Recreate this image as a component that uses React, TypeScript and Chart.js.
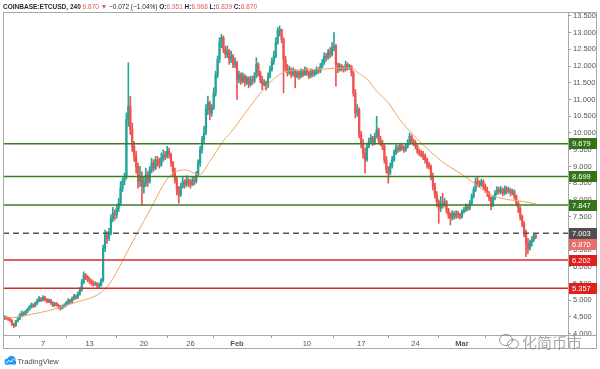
import React, { useEffect, useRef } from "react";
import { Chart, registerables } from "chart.js";

Chart.register(...registerables);

// ---- data (day 0 = 2 Jan 2020, 4 candles per day) ----
const symbol = "COINBASE:ETCUSD";
const interval = "240";
const changeText = "−0.072 (−1.04%)";
const candlesPerDay = 4;
const firstOpen = 4.46;

const closes = [
  4.50, 4.46, 4.44, 4.40, 4.28, 4.24, 4.38, 4.45, 4.55, 4.62, 4.58, 4.66, 4.72, 4.80, 4.86, 4.82,
  4.90, 4.98, 5.05, 5.00, 5.08, 5.02, 4.96, 5.00, 4.92, 4.85, 4.90, 4.86, 4.80, 4.76, 4.82, 4.85,
  4.92, 5.00, 4.95, 5.05, 5.12, 5.08, 5.20, 5.30, 5.55, 5.75, 5.70, 5.62, 5.58, 5.52, 5.48, 5.50,
  5.42, 5.45, 5.60, 6.55, 6.95, 6.85, 7.00, 7.45, 7.60, 7.55, 7.75, 7.90, 8.35, 8.55, 8.70, 10.40,
  10.80, 10.10, 9.60, 9.30, 9.00, 8.55, 8.70, 8.40, 8.50, 8.75, 8.55, 8.90, 9.10, 8.95, 9.20, 9.15,
  9.05, 9.25, 9.35, 9.30, 9.45, 9.35, 9.10, 8.85, 8.60, 8.30, 8.15, 8.40, 8.55, 8.45, 8.60, 8.50,
  8.45, 8.60, 8.55, 8.75, 9.10, 9.50, 9.80, 10.00, 10.70, 10.90, 10.60, 10.75, 11.20, 11.75, 12.20, 12.70,
  12.85, 12.50, 12.35, 12.45, 12.20, 12.30, 12.05, 12.10, 11.60, 11.75, 11.55, 11.70, 11.50, 11.65, 11.45, 11.60,
  11.55, 11.70, 12.05, 11.80, 11.60, 11.45, 11.50, 11.40, 11.70, 11.90, 12.15, 12.30, 12.70, 13.05, 13.10, 12.80,
  12.20, 11.95, 11.80, 11.90, 11.75, 11.85, 11.70, 11.80, 11.70, 11.85, 11.75, 11.90, 11.80, 11.70, 11.85, 11.75,
  11.80, 11.90, 11.85, 12.00, 12.10, 12.30, 12.25, 12.40, 12.35, 12.55, 12.60, 12.05, 11.90, 12.00, 11.95, 11.90,
  12.05, 11.95, 12.00, 11.80, 11.20, 10.60, 10.70, 9.95, 9.70, 9.40, 9.20, 9.60, 9.75, 9.85, 9.70, 9.90,
  10.10, 9.80, 9.70, 9.60, 9.20, 8.90, 8.80, 9.00, 9.20, 9.40, 9.55, 9.50, 9.60, 9.55, 9.50, 9.60,
  9.70, 9.90, 9.75, 9.70, 9.60, 9.45, 9.40, 9.35, 9.30, 9.20, 9.05, 9.00, 8.70, 8.40, 8.15, 7.95,
  7.75, 7.90, 7.85, 7.95, 7.70, 7.55, 7.45, 7.60, 7.50, 7.60, 7.55, 7.50, 7.65, 7.70, 7.80, 7.75,
  7.90, 8.10, 8.30, 8.55, 8.50, 8.45, 8.55, 8.40, 8.30, 8.20, 8.05, 7.85, 8.05, 8.20, 8.30, 8.25,
  8.30, 8.20, 8.35, 8.25, 8.30, 8.20, 8.25, 8.10, 7.90, 7.75, 7.50, 7.30, 7.05, 6.70, 6.55, 6.75,
  6.80, 6.951, 6.870,
];

const highs = [
  4.55, 4.53, 4.50, 4.47, 4.42, 4.32, 4.40, 4.50, 4.60, 4.68, 4.66, 4.70, 4.76, 4.84, 4.92, 4.90,
  4.95, 5.04, 5.12, 5.08, 5.14, 5.12, 5.05, 5.04, 5.03, 4.96, 4.94, 4.93, 4.89, 4.84, 4.86, 4.90,
  4.96, 5.05, 5.03, 5.10, 5.18, 5.16, 5.25, 5.38, 5.62, 5.85, 5.80, 5.74, 5.68, 5.62, 5.58, 5.55,
  5.53, 5.52, 5.65, 6.65, 7.10, 7.05, 7.15, 7.55, 7.78, 7.70, 7.85, 8.05, 8.55, 8.65, 8.80, 10.60,
  12.10, 11.10, 10.30, 9.75, 9.45, 9.10, 9.00, 8.85, 8.70, 8.95, 8.85, 9.00, 9.25, 9.20, 9.30, 9.30,
  9.25, 9.40, 9.50, 9.45, 9.60, 9.55, 9.40, 9.15, 8.95, 8.70, 8.40, 8.50, 8.70, 8.60, 8.72, 8.65,
  8.60, 8.68, 8.70, 8.85, 9.20, 9.60, 9.90, 10.20, 10.85, 11.10, 10.95, 10.85, 11.35, 11.85, 12.30, 12.85,
  12.95, 12.90, 12.60, 12.60, 12.50, 12.45, 12.35, 12.25, 12.15, 11.85, 11.80, 11.80, 11.75, 11.70, 11.68, 11.70,
  11.70, 11.80, 12.25, 12.10, 11.85, 11.70, 11.60, 11.55, 11.80, 12.00, 12.25, 12.45, 12.85, 13.15, 13.20, 13.10,
  12.85, 12.30, 12.05, 12.00, 11.95, 11.95, 11.90, 11.88, 11.85, 11.92, 11.90, 11.98, 11.95, 11.85, 11.92, 11.90,
  11.88, 11.98, 11.95, 12.08, 12.20, 12.40, 12.38, 12.50, 12.55, 12.70, 13.00, 12.65, 12.10, 12.08, 12.05, 12.00,
  12.15, 12.10, 12.05, 12.02, 11.85, 11.30, 10.85, 10.75, 10.05, 9.80, 9.55, 9.70, 9.85, 9.95, 9.90, 10.00,
  10.50, 10.15, 9.90, 9.78, 9.65, 9.30, 9.00, 9.10, 9.30, 9.50, 9.65, 9.62, 9.70, 9.68, 9.62, 9.68,
  9.80, 10.00, 9.95, 9.82, 9.78, 9.65, 9.52, 9.48, 9.45, 9.38, 9.25, 9.12, 9.05, 8.80, 8.50, 8.25,
  8.00, 8.10, 8.20, 8.05, 7.98, 7.75, 7.62, 7.68, 7.65, 7.68, 7.66, 7.60, 7.70, 7.78, 7.88, 7.85,
  7.98, 8.18, 8.38, 8.65, 8.70, 8.58, 8.62, 8.60, 8.48, 8.38, 8.25, 8.10, 8.12, 8.28, 8.40, 8.38,
  8.40, 8.35, 8.42, 8.40, 8.38, 8.34, 8.32, 8.30, 8.15, 7.95, 7.80, 7.55, 7.35, 7.10, 6.85, 6.80,
  6.90, 7.00, 6.968,
];

const lows = [
  4.42, 4.43, 4.40, 4.36, 4.24, 4.18, 4.22, 4.35, 4.42, 4.50, 4.54, 4.55, 4.62, 4.70, 4.77, 4.78,
  4.80, 4.87, 4.95, 4.96, 4.98, 4.98, 4.92, 4.93, 4.88, 4.80, 4.82, 4.82, 4.74, 4.70, 4.74, 4.79,
  4.82, 4.88, 4.90, 4.93, 5.00, 5.03, 5.05, 5.15, 5.27, 5.50, 5.62, 5.55, 5.50, 5.45, 5.42, 5.44,
  5.36, 5.38, 5.42, 5.55, 6.45, 6.70, 6.78, 6.95, 7.35, 7.40, 7.45, 7.65, 7.85, 8.25, 8.45, 8.62,
  10.20, 9.95, 9.45, 9.15, 8.80, 8.35, 8.40, 7.85, 8.20, 8.40, 8.40, 8.50, 8.80, 8.85, 8.90, 9.00,
  8.95, 9.00, 9.15, 9.20, 9.25, 9.25, 9.00, 8.70, 8.50, 8.15, 7.90, 8.10, 8.35, 8.35, 8.40, 8.40,
  8.35, 8.42, 8.45, 8.50, 8.70, 9.00, 9.40, 9.70, 9.95, 10.55, 10.40, 10.50, 10.70, 11.10, 11.65, 12.10,
  12.55, 12.40, 12.25, 12.25, 12.05, 12.10, 11.95, 11.95, 11.00, 11.50, 11.45, 11.50, 11.40, 11.45, 11.35, 11.40,
  11.45, 11.50, 11.65, 11.70, 11.50, 11.30, 11.40, 11.28, 11.35, 11.65, 11.85, 12.05, 12.25, 12.65, 12.90, 12.70,
  11.20, 11.85, 11.70, 11.75, 11.65, 11.70, 11.35, 11.65, 11.60, 11.65, 11.68, 11.72, 11.72, 11.62, 11.65, 11.68,
  11.70, 11.75, 11.78, 11.80, 11.95, 12.05, 12.15, 12.20, 12.25, 12.30, 12.45, 11.40, 11.80, 11.85, 11.85, 11.82,
  11.85, 11.88, 11.90, 11.70, 11.10, 10.45, 10.50, 9.85, 9.55, 9.25, 8.80, 9.15, 9.55, 9.68, 9.62, 9.65,
  9.85, 9.70, 9.62, 9.50, 9.10, 8.80, 8.50, 8.75, 8.95, 9.15, 9.35, 9.42, 9.45, 9.48, 9.42, 9.45,
  9.55, 9.65, 9.70, 9.62, 9.52, 9.38, 9.32, 9.28, 9.20, 9.10, 8.95, 8.92, 8.60, 8.30, 8.05, 7.80,
  7.30, 7.65, 7.75, 7.80, 7.60, 7.45, 7.25, 7.40, 7.42, 7.45, 7.45, 7.42, 7.45, 7.60, 7.65, 7.68,
  7.70, 7.85, 8.05, 8.25, 8.40, 8.38, 8.40, 8.32, 8.22, 8.10, 7.98, 7.70, 7.80, 8.00, 8.15, 8.18,
  8.18, 8.12, 8.15, 8.18, 8.20, 8.12, 8.15, 8.02, 7.82, 7.62, 7.40, 7.20, 6.90, 6.30, 6.40, 6.50,
  6.62, 6.75, 6.839,
];

// moving average (x in days)
const maDays = [0, 1.1, 3.5, 5.9, 9.4, 12.3, 13.6, 15.3, 17.1, 18.8, 19.7, 20.5, 21.5, 23.3, 25.1, 26.5, 28.2, 29.5, 31.7, 34.2, 35.9, 38, 40.3, 42.5, 44.6, 45.9, 46.8, 48, 49.5, 51, 52.7, 54.9, 57, 58.4, 60, 62.3, 64, 66.9, 68.5];
const maValues = [4.50, 4.48, 4.58, 4.70, 4.95, 5.20, 5.50, 6.20, 7.00, 7.70, 8.10, 8.45, 8.75, 8.90, 8.75, 9.15, 9.75, 10.10, 10.80, 11.50, 11.80, 11.88, 11.90, 11.93, 11.95, 11.75, 11.60, 11.25, 10.90, 10.40, 9.95, 9.45, 9.05, 8.85, 8.60, 8.20, 8.05, 7.95, 7.88];

const levelValues = [9.679, 8.699, 7.847, 7.003, 6.202, 5.357];
const levelKinds = ["resistance", "resistance", "resistance", "pivot", "support", "support"];

const xTickDays = [5, 11, 18, 24, 30, 39, 46, 53, 59];
const xTickLabels = ["7", "13", "20", "26", "Feb", "10", "17", "24", "Mar"];
const yTickValues = [4, 4.5, 5, 5.5, 6, 6.5, 7, 7.5, 8, 8.5, 9, 9.5, 10, 10.5, 11, 11.5, 12, 12.5, 13, 13.5];

// ---- styles ----
const UP = "#26a69a";
const DOWN = "#ef5350";
const FONT = "'Liberation Sans', Arial, 'DejaVu Sans', sans-serif";
const lineColor: Record<string, string> = { resistance: "#3f7d22", pivot: "#555555", support: "#d62b2b" };
const labelColor: Record<string, string> = { resistance: "#33731a", pivot: "#4f4f4f", support: "#e01f1f" };

const X_MIN = -0.155;
const X_MAX = 72.66;
const Y_MIN = 3.961;
const Y_MAX = 13.617;

export default function App() {
  const ref = useRef<HTMLCanvasElement>(null);

  useEffect(() => {
    document.body.style.margin = "0";
    const canvas = ref.current;
    if (!canvas) return;

    const n = closes.length;
    const opens = closes.map((c, i) => (i === 0 ? firstOpen : closes[i - 1]));
    const xs = closes.map((_, i) => i / candlesPerDay);
    const colors = closes.map((c, i) => (c >= opens[i] ? UP : DOWN));
    const wickData = closes.map((c, i) => ({
      x: xs[i],
      y: [Math.min(lows[i], opens[i], c), Math.max(highs[i], opens[i], c)],
    }));
    const bodyData = closes.map((c, i) => ({ x: xs[i], y: [opens[i], c] }));
    const maData = maDays.map((d, i) => ({ x: d, y: maValues[i] }));
    const last = closes[n - 1];
    const lastOpen = opens[n - 1];

    const levelSets = levelValues.map((v, i) => ({
      type: "line" as const,
      data: [
        { x: X_MIN, y: v },
        { x: X_MAX, y: v },
      ],
      borderColor: lineColor[levelKinds[i]],
      borderWidth: 1.5,
      borderDash: levelKinds[i] === "pivot" ? [6, 4] : [],
      pointRadius: 0,
      order: 0,
    }));

    const decor = {
      id: "decor",
      afterDraw(chart: any) {
        const ctx = chart.ctx as CanvasRenderingContext2D;
        const ys = chart.scales.y;
        const area = chart.chartArea;
        ctx.save();

        // frame
        ctx.strokeStyle = "#a9a9a9";
        ctx.lineWidth = 1;
        ctx.strokeRect(3.5, 12.5, 593, 336);
        ctx.beginPath();
        ctx.moveTo(Math.round(area.right) + 0.5, 12);
        ctx.lineTo(Math.round(area.right) + 0.5, 349);
        ctx.moveTo(3, Math.round(area.bottom) + 0.5);
        ctx.lineTo(597, Math.round(area.bottom) + 0.5);
        ctx.stroke();

        // price labels
        const items = levelValues
          .map((v, i) => ({ v, bg: labelColor[levelKinds[i]] }))
          .concat([{ v: last, bg: "#e8706c" }]);
        items.sort((a, b) => ys.getPixelForValue(a.v) - ys.getPixelForValue(b.v));
        let prevBottom = -1000;
        ctx.font = `7.5px ${FONT}`;
        ctx.textBaseline = "middle";
        ctx.textAlign = "left";
        for (const it of items) {
          let top = Math.round(ys.getPixelForValue(it.v) - 5.5);
          if (top < prevBottom) top = prevBottom;
          ctx.fillStyle = it.bg;
          ctx.fillRect(Math.round(area.right) + 1, top, 28, 11);
          ctx.fillStyle = "#ffffff";
          ctx.fillText(it.v.toFixed(3), Math.round(area.right) + 4, top + 6);
          prevBottom = top + 11;
        }

        // header
        const dark = "#1f2230";
        const red = "#e0595a";
        const segs: [string, boolean, string][] = [
          [`${symbol}, ${interval} `, true, dark],
          [`${last.toFixed(3)} `, false, red],
          ["▼ ", false, red],
          [`${changeText} `, false, dark],
          ["O:", true, dark],
          [`${lastOpen.toFixed(3)} `, false, red],
          ["H:", true, dark],
          [`${highs[n - 1].toFixed(3)} `, false, red],
          ["L:", true, dark],
          [`${lows[n - 1].toFixed(3)} `, false, red],
          ["C:", true, dark],
          [`${last.toFixed(3)}`, false, red],
        ];
        let total = 0;
        for (const s of segs) {
          ctx.font = `${s[1] ? "bold " : ""}7px ${FONT}`;
          total += ctx.measureText(s[0]).width;
        }
        const sx = 254 / total;
        ctx.save();
        ctx.translate(3, 8.5);
        ctx.scale(sx, 1);
        ctx.textBaseline = "alphabetic";
        let cx = 0;
        for (const s of segs) {
          ctx.font = `${s[1] ? "bold " : ""}7px ${FONT}`;
          ctx.fillStyle = s[2];
          ctx.fillText(s[0], cx, 0);
          cx += ctx.measureText(s[0]).width;
        }
        ctx.restore();

        // TradingView logo
        ctx.fillStyle = "#2196f3";
        ctx.beginPath();
        ctx.arc(7.5, 361.5, 3, 0, Math.PI * 2);
        ctx.arc(11.5, 360, 4, 0, Math.PI * 2);
        ctx.fill();
        ctx.fillRect(5, 361, 11, 3.5);
        ctx.strokeStyle = "#ffffff";
        ctx.lineWidth = 1;
        ctx.beginPath();
        ctx.moveTo(6, 363);
        ctx.lineTo(9, 360.5);
        ctx.lineTo(11, 362);
        ctx.lineTo(14, 358.5);
        ctx.stroke();
        ctx.fillStyle = "#4a4a4a";
        ctx.font = `7.5px ${FONT}`;
        ctx.textBaseline = "middle";
        ctx.fillText("TradingView", 17.5, 361.5);

        // watermark
        ctx.strokeStyle = "rgba(120,120,120,0.75)";
        ctx.lineWidth = 1;
        ctx.beginPath();
        ctx.ellipse(506, 340, 6.5, 5.5, 0, 0, Math.PI * 2);
        ctx.stroke();
        ctx.beginPath();
        ctx.ellipse(513, 344, 5.5, 4.5, 0, 0, Math.PI * 2);
        ctx.stroke();
        ctx.fillStyle = "rgba(110,110,110,0.6)";
        ctx.font = `15px 'Noto Sans CJK SC', sans-serif`;
        ctx.textBaseline = "middle";
        ctx.fillText("化简币市", 522, 342);

        ctx.restore();
      },
    };

    const chart = new Chart(canvas, {
      type: "bar",
      data: {
        datasets: [
          {
            type: "bar",
            data: wickData as any,
            backgroundColor: colors,
            barThickness: 1,
            grouped: false,
            order: 4,
          } as any,
          {
            type: "bar",
            data: bodyData as any,
            backgroundColor: colors,
            barThickness: 1.6,
            minBarLength: 1,
            grouped: false,
            order: 3,
          } as any,
          {
            type: "line",
            data: maData as any,
            borderColor: "#f0a261",
            borderWidth: 1,
            pointRadius: 0,
            cubicInterpolationMode: "monotone",
            order: 1,
          } as any,
          ...(levelSets as any[]),
        ],
      },
      options: {
        responsive: false,
        animation: false,
        devicePixelRatio: 1,
        events: [],
        layout: { padding: { left: 3, top: 12, right: 3, bottom: 20 } },
        plugins: { legend: { display: false }, tooltip: { enabled: false }, title: { display: false } },
        scales: {
          x: {
            type: "linear",
            min: X_MIN,
            max: X_MAX,
            offset: false,
            afterFit: (s: any) => {
              s.height = 14;
            },
            afterBuildTicks: (s: any) => {
              s.ticks = xTickDays.map((v) => ({ value: v }));
            },
            ticks: {
              autoSkip: false,
              maxRotation: 0,
              padding: 1,
              color: "#555555",
              font: (c: any) => {
                const idx = xTickDays.indexOf(c.tick ? c.tick.value : -1);
                const lab = idx >= 0 ? xTickLabels[idx] : "";
                return { size: 7.5, family: FONT, weight: lab === "Feb" || lab === "Mar" ? "bold" : "normal" };
              },
              callback: (v: any) => {
                const idx = xTickDays.indexOf(Number(v));
                return idx >= 0 ? xTickLabels[idx] : "";
              },
            },
            grid: { drawOnChartArea: false, drawTicks: true, tickLength: 3, color: "#9a9a9a" },
            border: { display: false },
          },
          y: {
            position: "right",
            min: Y_MIN,
            max: Y_MAX,
            afterFit: (s: any) => {
              s.width = 29;
            },
            afterBuildTicks: (s: any) => {
              s.ticks = yTickValues.map((v) => ({ value: v }));
            },
            ticks: {
              autoSkip: false,
              padding: 2,
              color: "#555555",
              font: { size: 7.5, family: FONT },
              callback: (v: any) => Number(v).toFixed(3),
            },
            grid: { drawOnChartArea: false, drawTicks: true, tickLength: 3, color: "#9a9a9a" },
            border: { display: false },
          },
        },
      } as any,
      plugins: [decor],
    });

    return () => chart.destroy();
  }, []);

  return <canvas ref={ref} width={600} height={369} style={{ display: "block" }} />;
}
